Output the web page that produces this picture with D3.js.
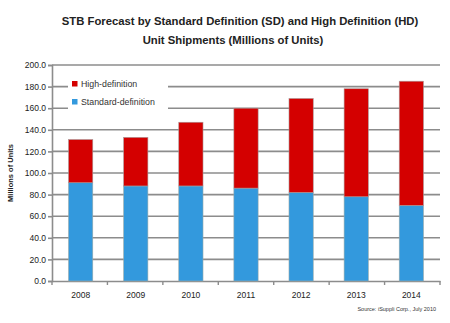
<!DOCTYPE html>
<html>
<head>
<meta charset="utf-8">
<script src="https://cdn.jsdelivr.net/npm/d3@7"></script>
<style>
  body { margin: 0; background: #fff; }
  svg { display: block; font-family: Arial, "Liberation Sans", sans-serif; }
</style>
</head>
<body>
<svg id="chart"></svg>
<script>
const width = 450;
const height = 323;

const years = ["2008", "2009", "2010", "2011", "2012", "2013", "2014"];
const standardDef = [91, 88, 88, 86, 82, 78, 70];
const highDef = [40, 45, 59, 74, 87, 100, 115];
const yTicks = [0, 20, 40, 60, 80, 100, 120, 140, 160, 180, 200];

const svg = d3.select("#chart").attr("width", width).attr("height", height);

const margin = { left: 52, right: 10, top: 65, bottom: 42 };
const x = d3.scaleBand().domain(years).range([margin.left, 440]).paddingInner(0.56).paddingOuter(0.3);
const y = d3.scaleLinear().domain([0, 200]).range([281, 65]);

// title
svg.append("text").attr("x", 240).attr("y", 25).attr("text-anchor", "middle")
    .style("font-size", "11.3px").style("font-weight", "bold").attr("fill", "#222")
    .text("STB Forecast by Standard Definition (SD) and High Definition (HD)");
svg.append("text").attr("x", 233).attr("y", 44).attr("text-anchor", "middle")
    .style("font-size", "11.3px").style("font-weight", "bold").attr("fill", "#222")
    .text("Unit Shipments (Millions of Units)");

// gridlines
svg.selectAll(".grid").data(yTicks.slice(1)).enter().append("line")
    .attr("x1", margin.left).attr("x2", 440)
    .attr("y1", d => y(d)).attr("y2", d => y(d))
    .attr("stroke", "#8c8c8c").attr("stroke-width", 1.6);

// y axis
const yAxis = svg.append("g").attr("transform", `translate(${margin.left},0)`)
    .call(d3.axisLeft(y).tickValues(yTicks).tickFormat(d3.format(".1f")).tickSize(4).tickPadding(2));
yAxis.select(".domain").attr("stroke", "#8c8c8c").attr("stroke-width", 1.6);
yAxis.selectAll(".tick line").attr("stroke", "#8c8c8c").attr("stroke-width", 1.6);
yAxis.selectAll("text").style("font-size", "8.5px").attr("fill", "#222").style("font-family", "Arial, 'Liberation Sans', sans-serif");

// x axis
const xAxis = svg.append("g").attr("transform", `translate(0,${y(0)})`)
    .call(d3.axisBottom(x).tickSize(0).tickPadding(11));
xAxis.select(".domain").attr("stroke", "#8c8c8c").attr("stroke-width", 1.6);
xAxis.selectAll("text").style("font-size", "8.5px").attr("fill", "#222").style("font-family", "Arial, 'Liberation Sans', sans-serif");
svg.selectAll(".xtick").data(d3.range(years.length + 1)).enter().append("line")
    .attr("x1", i => margin.left + i * (440 - margin.left) / years.length)
    .attr("x2", i => margin.left + i * (440 - margin.left) / years.length)
    .attr("y1", y(0)).attr("y2", y(0) + 4)
    .attr("stroke", "#8c8c8c").attr("stroke-width", 1.4);

// y label
svg.append("text").attr("transform", `translate(13,${y(100)}) rotate(-90)`).attr("text-anchor", "middle")
    .style("font-size", "7.5px").style("font-weight", "bold").attr("fill", "#222")
    .text("Millions of Units");

// bars
svg.selectAll(".sd").data(years).enter().append("rect")
    .attr("x", d => x(d)).attr("width", x.bandwidth())
    .attr("y", (d, i) => y(standardDef[i])).attr("height", (d, i) => y(0) - y(standardDef[i]))
    .attr("fill", "#3399dd").attr("stroke", "#9aa").attr("stroke-width", 0.6);
svg.selectAll(".hd").data(years).enter().append("rect")
    .attr("x", d => x(d)).attr("width", x.bandwidth())
    .attr("y", (d, i) => y(standardDef[i] + highDef[i])).attr("height", (d, i) => y(standardDef[i]) - y(standardDef[i] + highDef[i]))
    .attr("fill", "#d40000").attr("stroke", "#a99").attr("stroke-width", 0.6);

// legend
const legendData = [
    { label: "High-definition", color: "#d40000" },
    { label: "Standard-definition", color: "#3399dd" }
];
svg.append("rect").attr("x", 68).attr("y", 76).attr("width", 100).attr("height", 35).attr("fill", "#fff");
const legend = svg.append("g").attr("transform", "translate(72,81)");
legend.selectAll("rect").data(legendData).enter().append("rect")
    .attr("x", 0).attr("y", (d, i) => i * 18).attr("width", 5.5).attr("height", 5.5).attr("fill", d => d.color);
legend.selectAll("text").data(legendData).enter().append("text")
    .attr("x", 9).attr("y", (d, i) => i * 18 + 5.5).text(d => d.label)
    .style("font-size", "8.8px").attr("fill", "#333");

// source
svg.append("text").attr("x", 436).attr("y", 311).attr("text-anchor", "end")
    .style("font-size", "5.5px").attr("fill", "#333")
    .text("Source: iSuppli Corp., July 2010");
</script>
</body>
</html>
